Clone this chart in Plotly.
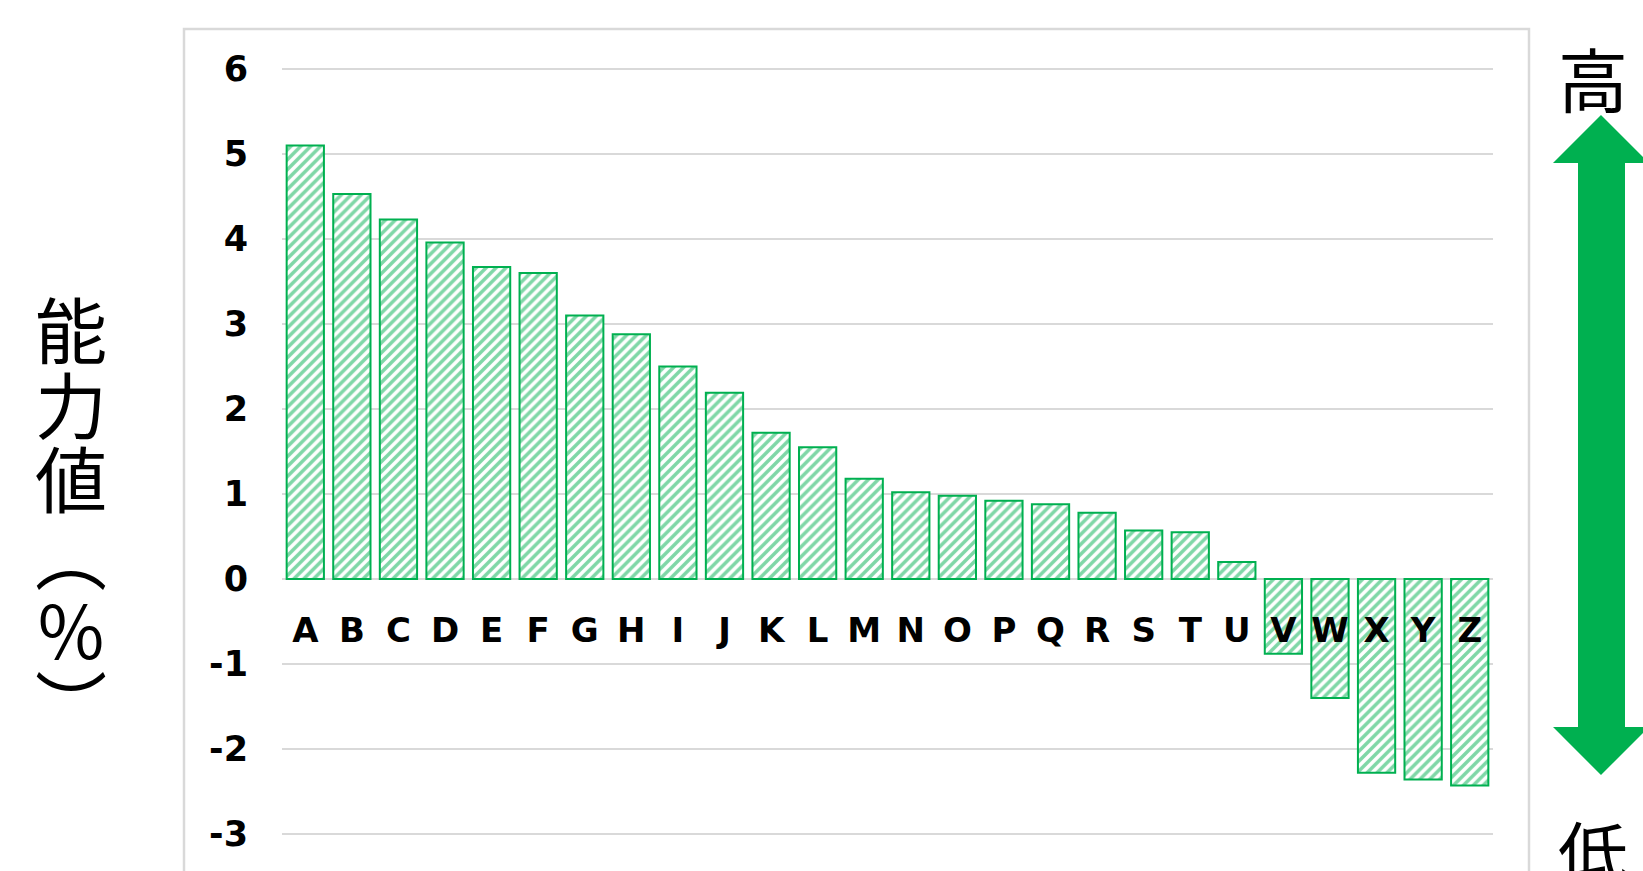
import plotly.graph_objects as go

categories = list("ABCDEFGHIJKLMNOPQRSTUVWXYZ")
values = [5.10, 4.53, 4.23, 3.96, 3.67, 3.60, 3.10, 2.88, 2.50, 2.19,
          1.72, 1.55, 1.18, 1.02, 0.98, 0.92, 0.88, 0.78, 0.57, 0.55,
          0.20, -0.88, -1.40, -2.28, -2.36, -2.43]
y_tickvals = [-3, -2, -1, 0, 1, 2, 3, 4, 5, 6]
y_ticktext = ["-3", "-2", "-1", "0", "1", "2", "3", "4", "5", "6"]
y_title_chars = ["能", "力", "値", "︵", "％", "︶"]
high_label = "高"
low_label = "低"

GREEN = "#00B050"
GRID = "#D9D9D9"
W, H = 1643, 871
L, R, T, B = 282, 1493, 66, 871
PW, PH = R - L, B - T
UNIT = 85.0
ZERO_Y = 579
YMAX = (ZERO_Y - T) / UNIT
YMIN = -(B - ZERO_Y) / UNIT


def px(x):
    return (x - L) / PW


def py(y):
    return (B - y) / PH


fig = go.Figure()
fig.add_trace(go.Bar(
    x=categories, y=values,
    marker=dict(
        color="white",
        line=dict(color=GREEN, width=2),
        pattern=dict(shape="/", fgcolor=GREEN, bgcolor="white", size=7, solidity=0.5),
    ),
    showlegend=False,
))

fig.update_layout(
    width=W, height=H,
    margin=dict(l=L, r=W - R, t=T, b=H - B),
    paper_bgcolor="white", plot_bgcolor="white",
    bargap=0.2,
    font=dict(family="DejaVu Sans", color="black"),
)

fig.update_xaxes(
    type="category",
    anchor="free",
    position=(0 - YMIN) / (YMAX - YMIN),
    showline=False, showgrid=False, ticks="",
    tickfont=dict(size=34, family="DejaVu Sans", weight="bold", color="black"),
    ticklabelstandoff=28,
)
fig.update_yaxes(
    range=[YMIN, YMAX],
    tickvals=y_tickvals, ticktext=y_ticktext,
    showgrid=True, gridcolor=GRID, gridwidth=2,
    zeroline=True, zerolinecolor=GRID, zerolinewidth=2,
    showline=False, ticks="",
    tickfont=dict(size=35, family="DejaVu Sans", weight="bold", color="black"),
    ticklabelstandoff=33,
)

# outer chart frame
fig.add_shape(type="rect", xref="paper", yref="paper",
              x0=px(184), x1=px(1529), y0=py(880), y1=py(29),
              line=dict(color=GRID, width=2.5), fillcolor="rgba(0,0,0,0)", layer="below")

# double-headed arrow
pts = [(1601, 115), (1649, 163), (1625, 163), (1625, 727), (1649, 727), (1601, 775),
       (1553, 727), (1578, 727), (1578, 163), (1553, 163)]
path = "M " + " L ".join(f"{px(x):.5f},{py(y):.5f}" for x, y in pts) + " Z"
fig.add_shape(type="path", xref="paper", yref="paper", path=path,
              fillcolor=GREEN, line=dict(width=0))

cjk = "Noto Sans CJK JP"
fig.add_annotation(xref="paper", yref="paper", x=px(1593), y=py(78), text=high_label,
                   xanchor="center", yanchor="middle",
                   showarrow=False, font=dict(family=cjk, size=70, color="black"))
fig.add_annotation(xref="paper", yref="paper", x=px(1593), y=py(850), text=low_label,
                   xanchor="center", yanchor="middle",
                   showarrow=False, font=dict(family=cjk, size=70, color="black"))

ycent = [326, 401, 475, 552, 627, 700]
for ch, yc in zip(y_title_chars, ycent):
    fig.add_annotation(xref="paper", yref="paper", x=px(71), y=py(yc), text=ch,
                       xanchor="center", yanchor="middle",
                       showarrow=False, font=dict(family=cjk, size=72, color="black"))

fig.write_html("out.html", config={"displayModeBar": False},
               post_script="document.body.style.margin='0';document.body.style.overflow='hidden';")
